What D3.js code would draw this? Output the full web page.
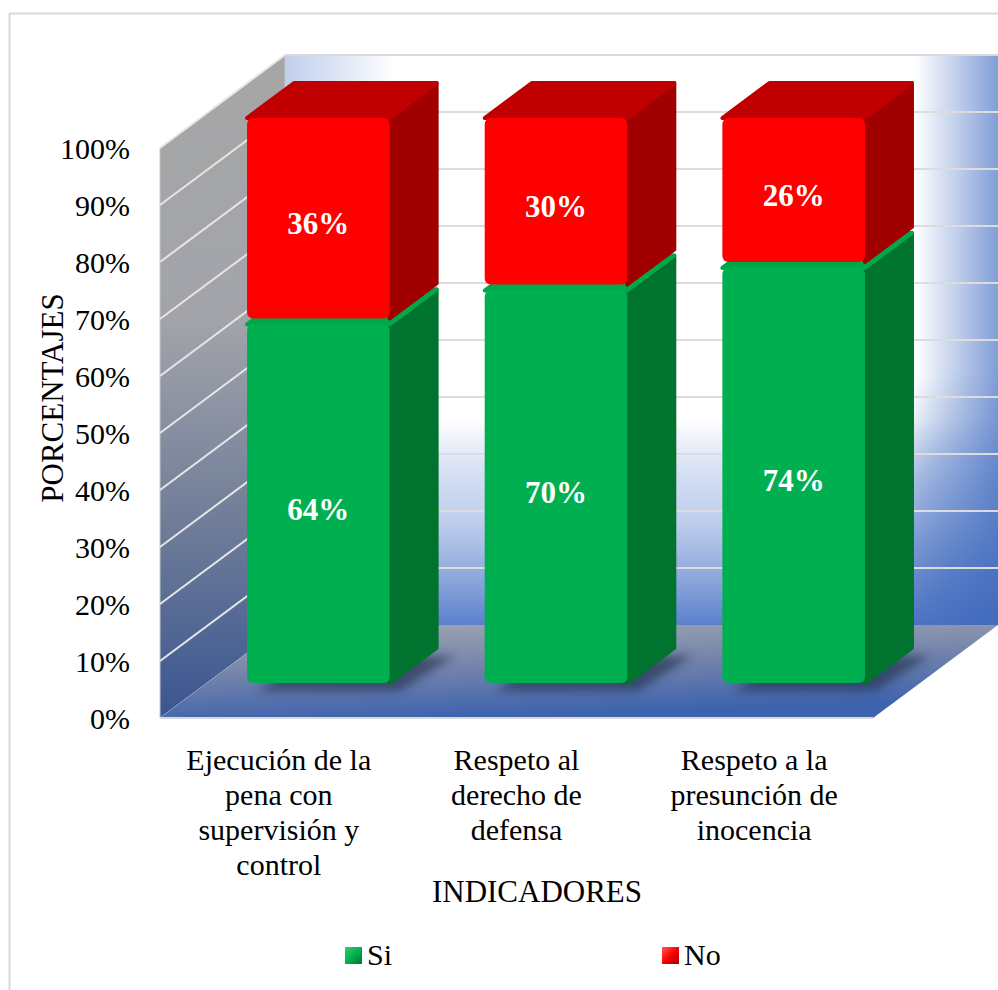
<!DOCTYPE html>
<html>
<head>
<meta charset="utf-8">
<script src="https://cdn.jsdelivr.net/npm/d3@7"></script>
<style>
  html, body { margin: 0; padding: 0; background: #fff; }
</style>
</head>
<body>
<svg id="chart" width="998" height="990" font-family="'Liberation Serif', 'DejaVu Serif', serif"></svg>
<script>
// datos del grafico
const categorias = [
  'Ejecución de la pena con supervisión y control',
  'Respeto al derecho de defensa',
  'Respeto a la presunción de inocencia'
]
const series = ['Si', 'No']
const valoresSi = [64, 70, 74]
const valoresNo = [36, 30, 26]
const ticksY = [0, 10, 20, 30, 40, 50, 60, 70, 80, 90, 100]

const svg = d3.select('#chart')
const defs = svg.append('defs')

// frame
svg.append('rect')
  .attr('x', 9.5).attr('y', 13.5)
  .attr('width', 1000).attr('height', 1000)
  .attr('fill', 'none').attr('stroke', '#d9d9d9').attr('stroke-width', 2)

// scales (front plane of the 3d box)
const y = d3.scaleLinear().domain([0, 100]).range([718, 148])
const x = d3.scaleBand().domain(categorias).range([160, 873])
  .paddingInner(0.4).paddingOuter(0.2)
// bars sit a bit deeper in the box
const yBar = d3.scaleLinear().domain([0, 100]).range([683, 118])
const wallDx = 125, wallDy = -93
const barShift = 39.5, barDx = 47, barDy = -35

const colores = {
  Si: { front: '#00b050', top: '#00a84c', side: '#00732f', light: '#2fd06f' },
  No: { front: '#ff0000', top: '#c00000', side: '#a00000', light: '#ff5a5a' }
}

// gradients
function linGrad (id, x1, y1, x2, y2, stops) {
  const g = defs.append('linearGradient').attr('id', id)
    .attr('gradientUnits', 'userSpaceOnUse')
    .attr('x1', x1).attr('y1', y1).attr('x2', x2).attr('y2', y2)
  stops.forEach(s => g.append('stop').attr('offset', s[0])
    .attr('stop-color', s[1]).attr('stop-opacity', s[2] === undefined ? 1 : s[2]))
}
const x0 = x.range()[0], x1 = x.range()[1]
const bx0 = x0 + wallDx, bx1 = x1 + wallDx, by0 = y(100) + wallDy, by1 = y(0) + wallDy

linGrad('wallBottom', 0, 420, 0, by1, [[0, '#4a75c6', 0], [0.45, '#8aa5dd', 0.5], [1, '#5a80cb', 1]])
linGrad('wallRight', 915, 0, bx1, 0, [[0, '#4a75c6', 0], [1, '#4a75c6', 0.7]])
linGrad('wallLeft', bx0, 0, bx0 + 110, 0, [[0, '#7f9ddb', 0.5], [1, '#7f9ddb', 0]])
const rc = defs.append('radialGradient').attr('id', 'wallCorner')
  .attr('gradientUnits', 'userSpaceOnUse').attr('cx', bx1).attr('cy', by1).attr('r', 260)
rc.append('stop').attr('offset', 0).attr('stop-color', '#3f68bb').attr('stop-opacity', 0.8)
rc.append('stop').attr('offset', 1).attr('stop-color', '#3f68bb').attr('stop-opacity', 0)

const sw = defs.append('linearGradient').attr('id', 'sideWall')
  .attr('x1', 0).attr('y1', 0).attr('x2', 0).attr('y2', 1)
sw.append('stop').attr('offset', '0%').attr('stop-color', '#a6a6a6')
sw.append('stop').attr('offset', '40%').attr('stop-color', '#a2a4aa')
sw.append('stop').attr('offset', '72%').attr('stop-color', '#6d7b98')
sw.append('stop').attr('offset', '100%').attr('stop-color', '#3a5592')

const fl = defs.append('linearGradient').attr('id', 'floor')
  .attr('x1', 0).attr('y1', 0).attr('x2', 0.3).attr('y2', 1)
fl.append('stop').attr('offset', '0%').attr('stop-color', '#a3a7b2')
fl.append('stop').attr('offset', '50%').attr('stop-color', '#7585ab')
fl.append('stop').attr('offset', '100%').attr('stop-color', '#3e63ad')

defs.append('filter').attr('id', 'blur')
  .attr('x', '-30%').attr('y', '-30%').attr('width', '160%').attr('height', '160%')
  .append('feGaussianBlur').attr('stdDeviation', 5)

const pts = (arr) => arr.map(p => p.join(',')).join(' ')

// back wall
const wall = svg.append('g')
const addWall = (fill) => wall.append('rect')
  .attr('x', bx0).attr('y', by0).attr('width', bx1 - bx0).attr('height', by1 - by0)
  .attr('fill', fill)
addWall('#ffffff')
addWall('url(#wallLeft)')
addWall('url(#wallBottom)')
addWall('url(#wallRight)')
addWall('url(#wallCorner)')

// side wall and floor
svg.append('polygon')
  .attr('points', pts([[x0, y(100)], [bx0, by0], [bx0, by1], [x0, y(0)]]))
  .attr('fill', 'url(#sideWall)')
  .attr('stroke', '#c8c8c8').attr('stroke-width', 1)
svg.append('polygon')
  .attr('points', pts([[x0, y(0)], [x1, y(0)], [bx1, by1], [bx0, by1]]))
  .attr('fill', 'url(#floor)')

// gridlines
const grid = svg.append('g')
grid.selectAll('.gb').data(ticksY.filter(t => t > 0 && t < 100)).enter().append('line')
  .attr('x1', bx0).attr('x2', bx1)
  .attr('y1', d => y(d) + wallDy).attr('y2', d => y(d) + wallDy)
  .attr('stroke', '#dcdcdc').attr('stroke-width', 2)
grid.selectAll('.gs').data(ticksY.filter(t => t > 0)).enter().append('line')
  .attr('x1', x0).attr('x2', bx0)
  .attr('y1', d => y(d)).attr('y2', d => y(d) + wallDy)
  .attr('stroke', '#e6e6e6').attr('stroke-width', 2)
svg.append('line')
  .attr('x1', bx0).attr('x2', bx1).attr('y1', by0).attr('y2', by0)
  .attr('stroke', '#d9d9d9').attr('stroke-width', 2)
svg.append('line')
  .attr('x1', x0).attr('x2', x1).attr('y1', y(0)).attr('y2', y(0))
  .attr('stroke', '#d9d9d9').attr('stroke-width', 2)

// stacked data
const tabla = categorias.map((c, i) => ({ cat: c, Si: valoresSi[i], No: valoresNo[i] }))
const stack = d3.stack().keys(series)(tabla)

// shadows on the floor
svg.append('g').selectAll('polygon').data(tabla).enter().append('polygon')
  .attr('points', d => {
    const fx = x(d.cat) + barShift + 10, w = x.bandwidth(), b = yBar(0) + 8
    return pts([[fx, b], [fx + w, b], [fx + w + barDx + 8, b + barDy], [fx + barDx + 8, b + barDy]])
  })
  .attr('fill', '#1f2a44').attr('opacity', 0.6).attr('filter', 'url(#blur)')

// bars
const barras = svg.append('g')
tabla.forEach((d, i) => {
  stack.forEach(s => {
    const seg = s[i]
    const col = colores[s.key]
    const fx = x(d.cat) + barShift
    const w = x.bandwidth()
    const top = yBar(seg[1]) + (seg[1] < 100 ? 3 : 0)
    const bot = yBar(seg[0]) - (seg[0] > 0 ? 3 : 0)
    const g = barras.append('g')
    g.append('path')
      .attr('d', 'M' + pts([[fx + w, top], [fx + w + barDx, top + barDy],
        [fx + w + barDx, bot + barDy], [fx + w, bot]]) + 'Z')
      .attr('fill', col.side).attr('stroke', col.side)
      .attr('stroke-width', 4).attr('stroke-linejoin', 'round')
    g.append('path')
      .attr('d', 'M' + pts([[fx, top], [fx + barDx, top + barDy],
        [fx + w + barDx, top + barDy], [fx + w, top]]) + 'Z')
      .attr('fill', col.top).attr('stroke', col.top)
      .attr('stroke-width', 4).attr('stroke-linejoin', 'round')
    g.append('rect')
      .attr('x', fx).attr('y', top).attr('width', w).attr('height', bot - top)
      .attr('rx', 6).attr('fill', col.front)
    g.append('text')
      .attr('x', fx + w / 2).attr('y', (top + bot) / 2 + 5)
      .attr('dy', '0.35em').attr('text-anchor', 'middle')
      .attr('fill', '#fff').attr('font-weight', 'bold').attr('font-size', 31)
      .text(seg.data[s.key] + '%')
  })
})

// y axis labels
svg.append('g').selectAll('text').data(ticksY).enter().append('text')
  .attr('x', 130).attr('y', d => y(d)).attr('dy', '0.35em')
  .attr('text-anchor', 'end').attr('font-size', 30).attr('fill', '#000')
  .text(d => d + '%')

svg.append('text')
  .attr('transform', 'translate(63,398) rotate(-90)')
  .attr('text-anchor', 'middle').attr('font-size', 31).attr('fill', '#000')
  .text('PORCENTAJES')

// category labels
const catG = svg.append('g').selectAll('text').data(categorias).enter().append('text')
  .attr('text-anchor', 'middle').attr('font-size', 30).attr('fill', '#000')
  .attr('x', d => x(d) + x.bandwidth() / 2)
catG.each(function (d) {
  const t = d3.select(this)
  const palabras = d.split(' ')
  let linea = []
  let n = 0
  let ts = t.append('tspan').attr('x', x(d) + x.bandwidth() / 2).attr('y', 770)
  palabras.forEach(p => {
    linea.push(p)
    ts.text(linea.join(' '))
    if (ts.node().getComputedTextLength() > 210 && linea.length > 1) {
      linea.pop()
      ts.text(linea.join(' '))
      linea = [p]
      n++
      ts = t.append('tspan').attr('x', x(d) + x.bandwidth() / 2).attr('y', 770 + n * 35).text(p)
    }
  })
})

svg.append('text')
  .attr('x', 537).attr('y', 902).attr('text-anchor', 'middle')
  .attr('font-size', 31).attr('fill', '#000')
  .text('INDICADORES')

// legend
const legX = [345, 662]
const leg = svg.append('g').selectAll('g').data(series).enter().append('g')
  .attr('transform', (d, i) => 'translate(' + legX[i] + ',947)')
series.forEach(k => {
  const lg = defs.append('linearGradient').attr('id', 'leg' + k)
    .attr('x1', 0).attr('y1', 0).attr('x2', 1).attr('y2', 1)
  lg.append('stop').attr('offset', '0%').attr('stop-color', colores[k].light)
  lg.append('stop').attr('offset', '50%').attr('stop-color', colores[k].front)
  lg.append('stop').attr('offset', '100%').attr('stop-color', colores[k].side)
})
leg.append('rect').attr('width', 17).attr('height', 17)
  .attr('fill', d => 'url(#leg' + d + ')')
leg.append('text').attr('x', 22).attr('y', 18)
  .attr('font-size', 30).attr('fill', '#000')
  .text(d => d)
</script>
</body>
</html>
